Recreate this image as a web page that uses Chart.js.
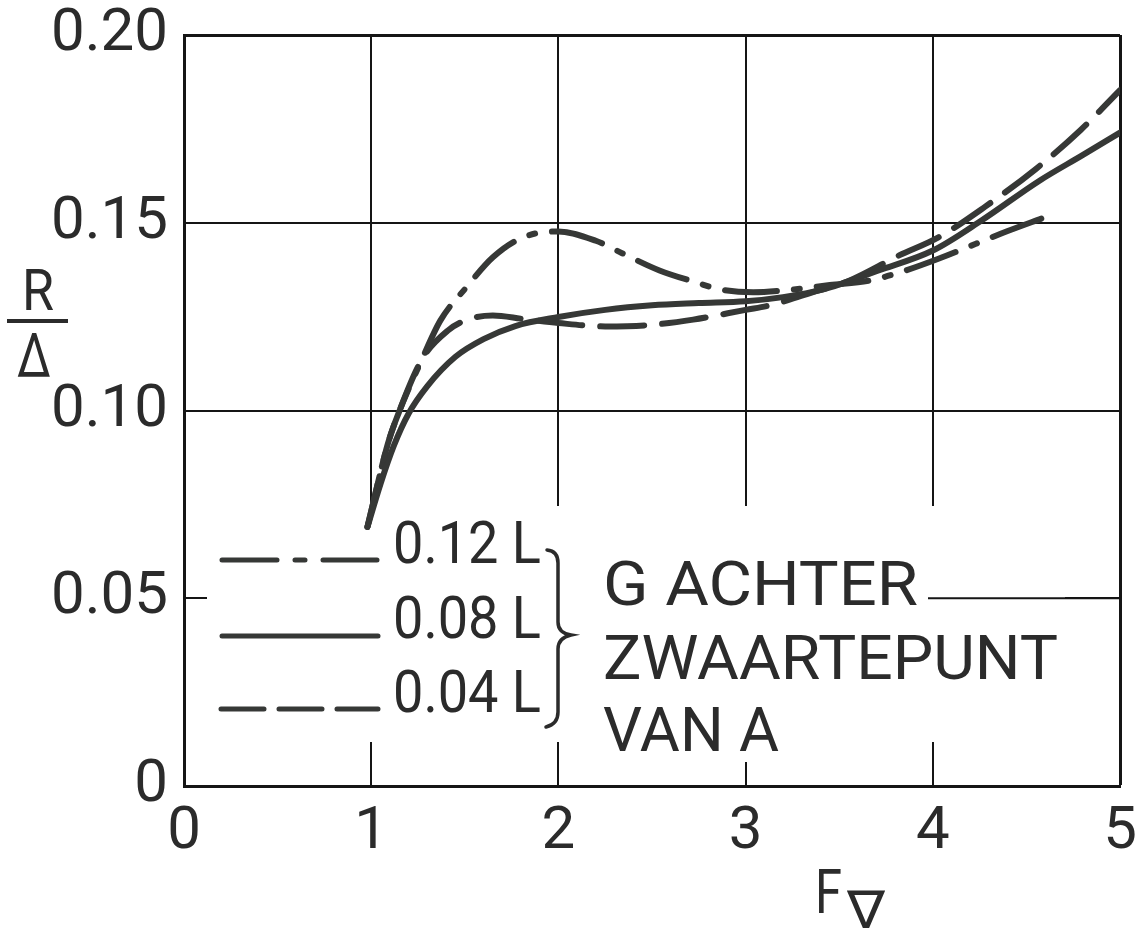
<!DOCTYPE html>
<html>
<head>
<meta charset="utf-8">
<script src="https://cdn.jsdelivr.net/npm/chart.js@4.4.1/dist/chart.umd.min.js"></script>
<style>
  html, body { margin: 0; padding: 0; background: #ffffff; }
  #wrap { width: 1142px; height: 932px; }
</style>
</head>
<body>
<div id="wrap"><canvas id="c" width="1142" height="932"></canvas></div>
<script>
// ---------------- data ----------------
const xTickValues = [0, 1, 2, 3, 4, 5];
const xTickLabels = ['0', '1', '2', '3', '4', '5'];
const yTickValues = [0, 0.05, 0.10, 0.15, 0.20];
const yTickLabels = ['0', '0.05', '0.10', '0.15', '0.20'];

const seriesNames = ['0.12 L', '0.08 L', '0.04 L'];

// 0.12 L (dash-dot)
const x012 = [0.98, 1.09, 1.14, 1.27, 1.37, 1.51, 1.65, 1.81, 2.0, 2.2, 2.34, 2.54, 2.73, 2.87, 3.04, 3.25, 3.45, 3.66, 3.85, 4.03, 4.23, 4.4, 4.59];
const y012 = [0.069, 0.0913, 0.0985, 0.1135, 0.124, 0.1329, 0.1408, 0.1461, 0.1477, 0.1452, 0.1419, 0.1373, 0.1342, 0.1322, 0.1315, 0.1322, 0.1334, 0.1346, 0.1372, 0.1404, 0.1444, 0.1478, 0.1513];

// 0.08 L (solid)
const x008 = [0.98, 1.05, 1.12, 1.2, 1.3, 1.45, 1.6, 1.77, 2.0, 2.25, 2.5, 2.75, 3.0, 3.2, 3.41, 3.71, 4.0, 4.26, 4.57, 4.8, 5.0];
const y008 = [0.069, 0.0805, 0.0905, 0.0992, 0.1065, 0.1143, 0.1190, 0.1225, 0.1249, 0.1268, 0.1280, 0.1286, 0.1291, 0.1302, 0.1322, 0.1373, 0.1426, 0.1506, 0.1612, 0.1680, 0.1740];

// 0.04 L (dashed)
const x004 = [0.98, 1.09, 1.14, 1.27, 1.41, 1.52, 1.65, 1.81, 2.0, 2.25, 2.47, 2.72, 3.0, 3.13, 3.34, 3.55, 3.82, 4.03, 4.28, 4.55, 4.79, 5.0];
const y004 = [0.069, 0.0913, 0.0985, 0.1135, 0.1213, 0.1243, 0.1253, 0.1244, 0.1233, 0.1224, 0.1227, 0.1242, 0.1268, 0.1280, 0.1312, 0.1345, 0.1413, 0.1461, 0.1543, 0.1643, 0.1747, 0.1853];

const captionLines = ['G ACHTER', 'ZWAARTEPUNT', 'VAN A'];
const yTitleTop = 'R';
const yTitleBottom = 'Δ';
const xTitleMain = 'F';
const xTitleSub = '∇';

// ---------------- styling ----------------
const INK = '#2b2b2b';
const LINE = '#363836';
const GRID = '#151515';
const FONT = 'Roboto, "DejaVu Sans", sans-serif';
const DASH_DOT = [52, 17, 6, 17];
const DASHED = [44, 18];
const LW = 6;

function pts(xs, ys) { return xs.map((x, i) => ({ x: x, y: ys[i] })); }

function fitText(ctx, txt, x, base, size, w, family) {
  ctx.font = size + 'px ' + (family || FONT);
  const m = ctx.measureText(txt).width;
  ctx.save();
  ctx.translate(x, base);
  if (w) ctx.scale(w / m, 1);
  ctx.fillText(txt, 0, 0);
  ctx.restore();
}

const decor = {
  id: 'decor',
  beforeDatasetsDraw(chart) {
    const ctx = chart.ctx, xs = chart.scales.x, ys = chart.scales.y;
    ctx.save();
    ctx.fillStyle = '#ffffff';
    ctx.fillRect(207, 506, 858, 236);
    ctx.fillRect(700, 742, 90, 20);
    const y05 = ys.getPixelForValue(0.05);
    ctx.strokeStyle = GRID; ctx.lineWidth = 2;
    ctx.beginPath(); ctx.moveTo(928, y05); ctx.lineTo(xs.getPixelForValue(5), y05); ctx.stroke();
    ctx.restore();
  },
  afterDraw(chart) {
    const ctx = chart.ctx;
    ctx.save();
    ctx.fillStyle = INK; ctx.strokeStyle = LINE;
    ctx.textBaseline = 'alphabetic'; ctx.textAlign = 'left';
    ctx.lineCap = 'round';
    // legend samples
    const rows = [
      { y: 560, dash: [55, 18, 10, 18], x1: 222, x2: 377, txt: seriesNames[0], base: 563 },
      { y: 636, dash: [], x1: 222, x2: 378, txt: seriesNames[1], base: 638 },
      { y: 709, dash: [43, 15], x1: 221, x2: 378, txt: seriesNames[2], base: 712 }
    ];
    rows.forEach(r => {
      ctx.lineWidth = 5; ctx.setLineDash(r.dash);
      ctx.beginPath(); ctx.moveTo(r.x1, r.y); ctx.lineTo(r.x2, r.y); ctx.stroke();
      ctx.setLineDash([]);
      fitText(ctx, r.txt, 393, r.base, 60, 148);
    });
    // brace
    ctx.lineWidth = 3.5; ctx.strokeStyle = INK;
    ctx.beginPath();
    ctx.moveTo(547, 550);
    ctx.quadraticCurveTo(558, 551, 558, 563);
    ctx.lineTo(558, 622);
    ctx.quadraticCurveTo(558, 633, 571, 635);
    ctx.quadraticCurveTo(558, 638, 558, 649);
    ctx.lineTo(558, 712);
    ctx.quadraticCurveTo(558, 724, 546, 727);
    ctx.stroke();
    // caption
    fitText(ctx, captionLines[0], 603, 605, 62, 315);
    fitText(ctx, captionLines[1], 603, 679, 62, 455);
    fitText(ctx, captionLines[2], 603, 751, 62, 176);
    // y title R / Δ
    fitText(ctx, yTitleTop, 22, 310, 58, 32);
    ctx.fillRect(7, 319, 61, 4);
    fitText(ctx, yTitleBottom, 17, 377, 62, 34);
    // x title F∇
    fitText(ctx, xTitleMain, 815, 913, 62, 27);
    fitText(ctx, xTitleSub, 847, 928, 52, 38, '"DejaVu Sans", sans-serif');
    ctx.restore();
  }
};

const tickFont = { family: FONT, size: 60, lineHeight: 1 };

function zeroPad(s) { s.paddingLeft = 0; s.paddingRight = 0; s.paddingTop = 0; s.paddingBottom = 0; }

new Chart(document.getElementById('c'), {
  type: 'scatter',
  data: {
    datasets: [
      { label: seriesNames[0], data: pts(x012, y012), borderDash: DASH_DOT },
      { label: seriesNames[1], data: pts(x008, y008), borderDash: [] },
      { label: seriesNames[2], data: pts(x004, y004), borderDash: DASHED }
    ].map(d => Object.assign(d, {
      showLine: true, pointRadius: 0, borderColor: LINE, borderWidth: LW,
      borderCapStyle: 'round', borderJoinStyle: 'round',
      cubicInterpolationMode: 'monotone', fill: false
    }))
  },
  options: {
    responsive: false,
    devicePixelRatio: 1,
    animation: false,
    layout: { padding: { top: 35, right: 22, left: 0, bottom: 0 } },
    plugins: { legend: { display: false }, tooltip: { enabled: false } },
    scales: {
      x: {
        type: 'linear', min: 0, max: 5,
        afterBuildTicks: s => { s.ticks = xTickValues.map(v => ({ value: v })); },
        afterFit: s => { s.height = 146; zeroPad(s); },
        ticks: {
          font: tickFont, color: INK, padding: 17, maxRotation: 0,
          callback: v => { const i = xTickValues.indexOf(v); return i >= 0 ? xTickLabels[i] : ''; }
        },
        grid: {
          color: GRID, drawTicks: false,
          lineWidth: c => (c.index === xTickValues.length - 1 ? 3 : 2)
        },
        border: { display: true, color: GRID, width: 3 }
      },
      y: {
        type: 'linear', min: 0, max: 0.2,
        afterBuildTicks: s => { s.ticks = yTickValues.map(v => ({ value: v })); },
        afterFit: s => { s.width = 184; zeroPad(s); },
        ticks: {
          font: tickFont, color: INK, padding: 16,
          callback: v => { const i = yTickValues.findIndex(t => Math.abs(t - v) < 1e-9); return i >= 0 ? yTickLabels[i] : ''; }
        },
        grid: {
          color: GRID, drawTicks: false,
          lineWidth: c => (c.index === yTickValues.length - 1 ? 3 : 2)
        },
        border: { display: true, color: GRID, width: 3 }
      }
    }
  },
  plugins: [decor]
});
</script>
</body>
</html>
